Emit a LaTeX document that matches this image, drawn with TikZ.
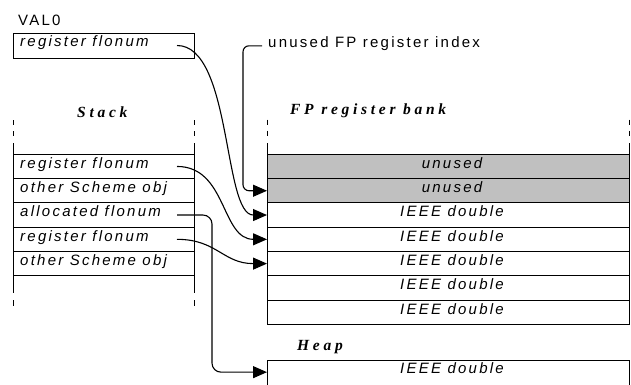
\documentclass[tikz,border=0pt]{standalone}
\usepackage{fontspec}
\setmainfont{Liberation Sans}
\newfontfamily\labelfont{Liberation Sans}[LetterSpace=15]
\newfontfamily\titlefont{Liberation Serif}[LetterSpace=24]
\usetikzlibrary{arrows.meta,calc}
\definecolor{regGray}{RGB}{192,192,192}

\begin{document}
\begin{tikzpicture}[x=1pt,y=-1pt,
  box/.style={draw, line width=1pt, inner sep=0pt, outer sep=0pt, minimum height=24.3pt},
  stackrow/.style={box, minimum width=181pt},
  fprow/.style={box, minimum width=362pt},
  txt/.style={inner sep=0pt, font=\labelfont\fontsize{15}{17}\selectfont},
  itxt/.style={txt, font=\labelfont\itshape\fontsize{15}{17}\selectfont},
  heading/.style={inner sep=0pt, anchor=base west, font=\titlefont\bfseries\itshape\fontsize{15.5}{17}\selectfont},
  side/.style={line width=1pt},
  sidedash/.style={line width=1pt, dash pattern=on 5pt off 6pt},
  link/.style={line width=1.1pt, -{Triangle[length=14pt,width=12pt]}},
]
\useasboundingbox (0,0) rectangle (631,384);

% ---- VAL0 register ----
\node[txt, anchor=base west] (val) at (18,25) {VAL0};
\node[stackrow, minimum height=25pt] (v1) at (103.5,45.5) {};
\node[itxt, anchor=base west] (v1t) at (20,46.7) {register flonum};

% ---- Stack ----
\node[heading] (stacktitle) at (77,117) {Stack};
\foreach \i/\t in {1/register flonum, 2/other Scheme obj, 3/allocated flonum, 4/register flonum, 5/other Scheme obj} {
  \node[stackrow] (s\i) at (103.5,{154.3+24.29*(\i-0.5)}) {};
  \node[itxt, anchor=base west] (s\i t) at (20,{154.3+24.29*(\i-1)+14}) {\t};
}
\foreach \x in {13,194} {
  \draw[sidedash] (\x,120) -- (\x,136);
  \draw[side] (\x,143) -- (\x,154.3);
  \draw[side] (\x,275.7) -- (\x,293);
  \draw[side] (\x,300) -- (\x,306);
}

% ---- FP register bank ----
\node[heading] (fptitle) at (290,114) {FP register bank};
\foreach \i in {1,2} {
  \node[fprow, fill=regGray] (f\i) at (448,{154.3+24.29*(\i-0.5)}) {};
  \node[itxt, anchor=base] (f\i t) at (452,{154.3+24.29*(\i-1)+14}) {unused};
}
\foreach \i in {3,...,7} {
  \node[fprow] (f\i) at (448,{154.3+24.29*(\i-0.5)}) {};
  \node[itxt, anchor=base] (f\i t) at (452,{154.3+24.29*(\i-1)+14}) {IEEE double};
}
\draw[line width=1.6pt] (f1.north west) -- (f1.north east);
\foreach \x in {267,629} {
  \draw[sidedash] (\x,119.5) -- (\x,135.5);
  \draw[side] (\x,143) -- (\x,154.3);
}

% ---- Heap ----
\node[heading] (heaptitle) at (297,350) {Heap};
\node[inner sep=0pt, outer sep=0pt, minimum width=362pt, minimum height=24.3pt] (h1) at (448,372.15) {};
\draw[side] ([yshift=-6pt]h1.south west) -- (h1.north west) -- (h1.north east) -- ([yshift=-6pt]h1.south east);
\node[itxt, anchor=base] (h1t) at (452,373.5) {IEEE double};

% ---- register index label ----
\node[txt, anchor=base west] (idx) at (268,47.3) {unused FP register index};

% ---- connectors ----
\draw[link, rounded corners=6pt] ([xshift=-6pt,yshift=1.5pt]idx.base west) -| ([xshift=-24pt]f2.west) -- (f2.west);
\draw[link] ([xshift=-17pt]v1.east) .. controls +(55,0) and +(-44,0) .. (f3.west);
\draw[link] ([xshift=-17pt]s1.east) .. controls +(50,0) and +(-46,0) .. (f4.west);
\draw[link] ([xshift=-17pt]s4.east) .. controls +(40,0) and +(-44,0) .. (f5.west);
\draw[link, rounded corners=9pt] ([xshift=-17pt]s3.east) -| ([xshift=-55pt]h1.west) -- (h1.west);
\end{tikzpicture}
\end{document}
